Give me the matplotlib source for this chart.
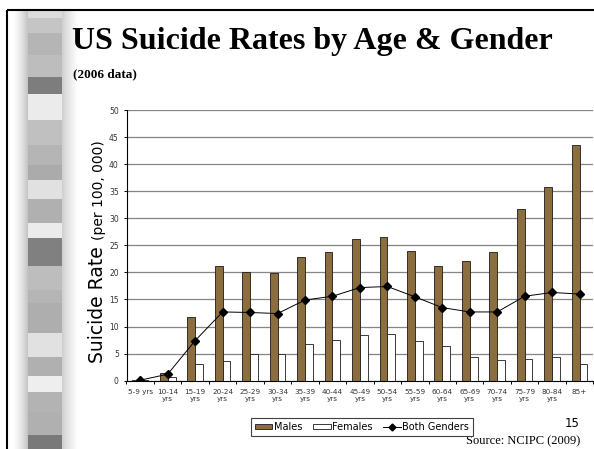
import numpy as np
import matplotlib
matplotlib.use("Agg")
import matplotlib.pyplot as plt
from matplotlib.patches import Patch
from matplotlib.lines import Line2D

# ---- data: US suicide rates per 100,000 by age group (2006) ----
age_groups = ["5-9 yrs", "10-14\nyrs", "15-19\nyrs", "20-24\nyrs", "25-29\nyrs",
              "30-34\nyrs", "35-39\nyrs", "40-44\nyrs", "45-49\nyrs", "50-54\nyrs",
              "55-59\nyrs", "60-64\nyrs", "65-69\nyrs", "70-74\nyrs", "75-79\nyrs",
              "80-84\nyrs", "85+"]
males = [0.1, 1.4, 11.7, 21.1, 20.0, 19.9, 22.9, 23.8, 26.1, 26.6, 24.0, 21.2,
         22.1, 23.7, 31.7, 35.8, 43.5]
females = [0.1, 0.7, 3.0, 3.7, 4.9, 4.9, 6.7, 7.5, 8.5, 8.6, 7.3, 6.5,
           4.4, 3.8, 4.0, 4.4, 3.1]
both = [0.1, 1.2, 7.4, 12.7, 12.6, 12.4, 14.9, 15.6, 17.2, 17.4, 15.5, 13.5,
        12.7, 12.7, 15.6, 16.3, 16.0]
y_ticks = list(range(0, 51, 5))

W, H = 594, 449
fig = plt.figure(figsize=(W / 100, H / 100), dpi=100)
fig.patch.set_facecolor("white")

# ---- slide background: decorative strip and frame ----
bg = fig.add_axes([0, 0, 1, 1], zorder=0)
bg.set_axis_off()

blocks = [(11, 18, 0.86), (18, 33, 0.77), (33, 55, 0.71), (55, 77, 0.74),
          (77, 94, 0.49), (94, 120, 0.92), (120, 145, 0.75), (145, 165, 0.71),
          (165, 180, 0.67), (180, 199, 0.88), (199, 223, 0.69), (223, 238, 0.92),
          (238, 266, 0.50), (266, 290, 0.74), (290, 303, 0.71), (303, 333, 0.68),
          (333, 357, 0.88), (357, 376, 0.69), (376, 392, 0.93), (392, 412, 0.70),
          (412, 435, 0.69), (435, 449, 0.48)]
x0, x1, y0, y1 = 8, 80, 11, 449
xs = np.arange(x0, x1) + 0.5
ys = np.arange(y0, y1) + 0.5
img = np.ones((len(ys), len(xs)))
left_edge, right_edge = 28, 62
for i, yy in enumerate(ys):
    g = 0.8
    for a, b, v in blocks:
        if a <= yy < b:
            g = v
            break
    for j, xx in enumerate(xs):
        if xx < 11:
            val = 1.0
        elif xx < left_edge:
            t = (xx - 11) / (left_edge - 11)
            val = 1.0 - 0.24 * t ** 1.6
        elif xx <= right_edge:
            val = g
        elif xx < 78:
            t = (xx - right_edge) / (78 - right_edge)
            val = 0.80 + 0.20 * t ** 0.8
        else:
            val = 1.0
        img[i, j] = val
bg.imshow(img, cmap="gray", vmin=0, vmax=1, extent=[x0, x1, y1, y0],
          aspect="auto", interpolation="bilinear")
bg.plot([7, 7], [10, 449], color="black", lw=1.5, solid_capstyle="butt")
bg.plot([7, 594], [10, 10], color="black", lw=1.5, solid_capstyle="butt")
bg.set_xlim(0, W)
bg.set_ylim(H, 0)

# ---- titles and notes ----
bg.text(72.5, 49.5, "US Suicide Rates by Age & Gender", family="Liberation Serif",
        weight="bold", fontsize=23, ha="left", va="baseline", color="black")
bg.text(73, 77, "(2006 data)", family="Liberation Serif", weight="bold",
        fontsize=9.5, ha="left", va="baseline", color="black")
bg.text(572, 423.5, "15", fontsize=8.5, ha="center", va="center", color="black")
bg.text(580, 441.5, "Source: NCIPC (2009)", family="Liberation Serif",
        fontsize=9, ha="right", va="center", color="black")
bg.text(103, 363, "Suicide Rate", fontsize=13.5, rotation=90, rotation_mode="anchor",
        ha="left", va="baseline", color="black")
bg.text(103, 240, "(per 100, 000)", fontsize=10, rotation=90, rotation_mode="anchor",
        ha="left", va="baseline", color="black")

# ---- chart ----
ax_l, ax_r, ax_t, ax_b = 126.5, 593.3, 110.0, 380.7
ax = fig.add_axes([ax_l / W, 1 - ax_b / H, (ax_r - ax_l) / W, (ax_b - ax_t) / H],
                  zorder=1)
ax.patch.set_alpha(0)

x = np.arange(len(age_groups))
bw = 0.285
male_color = "#8c6d3e"
ax.bar(x - bw / 2, males, bw, color=male_color, edgecolor="#1a1a1a", lw=0.6, zorder=2)
ax.bar(x + bw / 2, females, bw, color="white", edgecolor="#1a1a1a", lw=0.6, zorder=2)
ax.plot(x, both, color="black", lw=0.7, marker="D", ms=4.3, zorder=3)

ax.set_xlim(-0.5, len(age_groups) - 0.5)
ax.set_ylim(0, 50)
ax.set_yticks(y_ticks)
ax.set_yticklabels([str(v) for v in y_ticks], fontsize=5.5, color="#333333")
ax.yaxis.grid(True, color="#858585", lw=0.9)
ax.set_axisbelow(True)
ax.tick_params(axis="y", length=2.5, width=0.7, pad=3, color="black")

ax.set_xticks(x)
ax.set_xticklabels(age_groups, fontsize=5.2, color="#333333", linespacing=1.25)
ax.set_xticks(np.arange(-0.5, len(age_groups), 1), minor=True)
ax.tick_params(axis="x", which="major", length=0, pad=6)
ax.tick_params(axis="x", which="minor", length=2.5, width=0.7, color="black")

for side in ("top", "right"):
    ax.spines[side].set_visible(False)
for side in ("left", "bottom"):
    ax.spines[side].set_color("black")
    ax.spines[side].set_linewidth(0.8)

handles = [Patch(facecolor=male_color, edgecolor="#1a1a1a", lw=0.6),
           Patch(facecolor="white", edgecolor="#1a1a1a", lw=0.6),
           Line2D([], [], color="black", lw=0.7, marker="D", ms=3.5)]
leg = fig.legend(handles, ["Males", "Females", "Both Genders"], loc="center",
                 bbox_to_anchor=(362 / W, 1 - 427 / H), ncol=3, fontsize=7,
                 frameon=True, fancybox=False, edgecolor="#404040", framealpha=1,
                 borderpad=0.4, handlelength=1.8, handleheight=0.45,
                 handletextpad=0.15, columnspacing=1.1)
leg.get_frame().set_linewidth(0.8)

fig.savefig("out.png", dpi=100, facecolor="white")
